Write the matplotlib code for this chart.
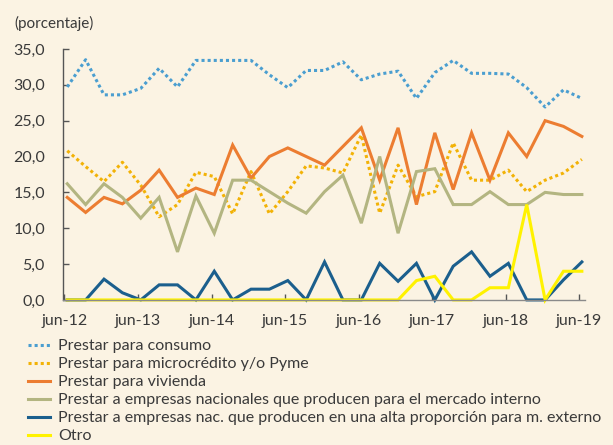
import matplotlib
matplotlib.use("Agg")
import matplotlib.pyplot as plt
from matplotlib.lines import Line2D

plt.rcParams['font.family'] = ['Lato', 'DejaVu Sans']

quarters = list(range(29))
tick_pos = [0, 4, 8, 12, 16, 20, 24, 28]
tick_labels = ["jun-12", "jun-13", "jun-14", "jun-15", "jun-16", "jun-17", "jun-18", "jun-19"]

consumo = [29.7, 33.5, 28.6, 28.6, 29.5, 32.3, 29.7, 33.4, 33.4, 33.4, 33.4, 31.4, 29.6, 32.0,
           32.0, 33.2, 30.7, 31.5, 31.9, 28.1, 31.7, 33.4, 31.6, 31.6, 31.5, 29.6, 26.9, 29.3, 28.1]
microcredito = [20.8, 18.6, 16.5, 19.2, 16.0, 11.6, 13.3, 17.8, 17.2, 12.0, 17.9, 12.0, 15.1, 18.7,
                18.4, 17.7, 23.0, 12.1, 18.8, 14.4, 15.1, 21.9, 16.7, 16.7, 18.1, 15.1, 16.7, 17.7, 19.6]
vivienda = [14.3, 12.2, 14.3, 13.4, 15.3, 18.1, 14.3, 15.6, 14.7, 21.6, 17.0, 20.0, 21.2, 20.0,
            18.8, 21.4, 24.0, 16.7, 24.0, 13.3, 23.3, 15.4, 23.3, 16.7, 23.3, 20.0, 25.0, 24.2, 22.8]
nacionales = [16.2, 13.3, 16.2, 14.3, 11.4, 14.3, 6.7, 14.5, 9.3, 16.7, 16.7, 15.1, 13.5, 12.1,
              15.1, 17.4, 10.7, 20.0, 9.3, 17.9, 18.3, 13.3, 13.3, 15.1, 13.3, 13.3, 15.0, 14.7, 14.7]
externo = [0.0, 0.0, 2.9, 1.0, 0.0, 2.1, 2.1, 0.0, 4.0, 0.0, 1.5, 1.5, 2.7, 0.0,
           5.3, 0.0, 0.0, 5.1, 2.6, 5.1, 0.0, 4.7, 6.7, 3.3, 5.1, 0.0, 0.0, 2.8, 5.3]
otro = [0.0, 0.0, 0.0, 0.0, 0.0, 0.0, 0.0, 0.0, 0.0, 0.0, 0.0, 0.0, 0.0, 0.0,
        0.0, 0.0, 0.0, 0.0, 0.0, 2.7, 3.3, 0.0, 0.0, 1.7, 1.7, 13.3, 0.0, 4.0, 4.0]

labels = ["Prestar para consumo",
          "Prestar para microcrédito y/o Pyme",
          "Prestar para vivienda",
          "Prestar a empresas nacionales que producen para el mercado interno",
          "Prestar a empresas nac. que producen en una alta proporción para m. externo",
          "Otro"]

bg = "#FBF3E3"
txt = "#3a3a3a"
colors = ["#4A9ED0", "#F2B206", "#EC7D31", "#B3B581", "#1B5F8D", "#FFF200"]
styles = [(0, (1, 1)), (0, (1, 1)), "-", "-", "-", "-"]
series = [consumo, microcredito, vivienda, nacionales, externo, otro]

fig = plt.figure(figsize=(6.13, 4.45), dpi=100, facecolor=bg)
ax = fig.add_axes([0.1028, 0.326, 0.8515, 0.564])
ax.set_facecolor(bg)

lw = 2.2
for s, c, ls, lab in zip(series, colors, styles, labels):
    ax.plot(quarters, s, color=c, linestyle=ls, linewidth=lw, label=lab,
            clip_on=False, solid_joinstyle='miter')

ax.set_xlim(-0.23, 28.17)
ax.set_ylim(0, 35)
ax.set_yticks([0, 5, 10, 15, 20, 25, 30, 35])
ax.set_yticklabels(["0,0", "5,0", "10,0", "15,0", "20,0", "25,0", "30,0", "35,0"])
ax.set_xticks([p - 0.15 for p in tick_pos])
ax.set_xticklabels(tick_labels)

for sp in ["top", "right"]:
    ax.spines[sp].set_visible(False)
ax.spines["left"].set_color("#555555")
ax.spines["left"].set_linewidth(1.0)
ax.spines["bottom"].set_color("#8a8a8a")
ax.spines["bottom"].set_linewidth(1.0)

ax.tick_params(axis="y", direction="in", length=4, width=1, color="#555555",
               labelsize=11.5, labelcolor=txt, pad=13)
ax.tick_params(axis="x", direction="in", length=4, width=1, color="#555555",
               labelsize=11.5, labelcolor=txt, pad=10)

fig.text(14 / 613, 1 - 23 / 445, "(porcentaje)", fontsize=11, color=txt,
         ha="left", va="center")

handles = [Line2D([], [], color=c, linestyle=ls, linewidth=lw) for c, ls in zip(colors, styles)]
leg = fig.legend(handles, labels, loc="upper left", bbox_to_anchor=(28 / 613, 1 - 339 / 445),
                 frameon=False, fontsize=11.5, handlelength=1.4, handletextpad=0.5,
                 labelspacing=0.24, borderpad=0, borderaxespad=0)
for t in leg.get_texts():
    t.set_color(txt)

fig.savefig("out.png", dpi=100, facecolor=bg)
